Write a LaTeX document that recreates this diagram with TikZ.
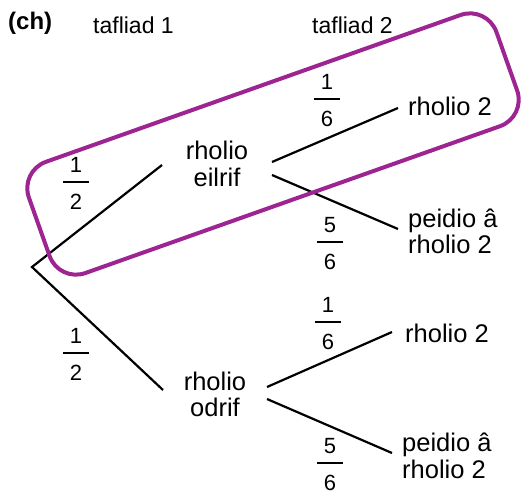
\documentclass[tikz,border=0pt]{standalone}
\usepackage{fontspec}
\setmainfont{Liberation Sans}
\definecolor{boxpurple}{RGB}{158,36,146}
\begin{document}
\begin{tikzpicture}[x=1pt,y=-1pt,
  branch/.style={line width=2.2pt, draw=black},
  lab/.style={font=\fontsize{25.5}{26.5}\selectfont, inner sep=0pt, align=left},
  head/.style={font=\fontsize{23}{24}\selectfont, inner sep=0pt},
  fracbar/.style={fill=black, minimum width=25.5pt, minimum height=2.3pt, inner sep=0pt, outer sep=0pt},
  fracnum/.style={font=\fontsize{22}{24}\selectfont, inner sep=0pt},
  ring/.style={draw=boxpurple, line width=4pt, rounded corners=28pt,
    minimum width=496pt, minimum height=118pt, rotate=19.5, inner sep=0pt}]
\useasboundingbox (0,0) rectangle (526,498);

% headers
\node[head, font={\fontsize{24}{24}\selectfont\bfseries}, anchor=base west] (ch) at (8,29) {(ch)};
\node[head, anchor=base west] (t1) at (93,33) {tafliad 1};
\node[head, anchor=base west] (t2) at (312,33) {tafliad 2};

% outcome labels
\node[lab, align=center] (eil) at (217,164) {rholio\\eilrif};
\node[lab, align=center] (odr) at (215,394.5) {rholio\\odrif};
\node[lab, anchor=base west] (r2u) at (408,115) {rholio 2};
\node[lab, anchor=west] (pu) at (408,231.5) {peidio â\\rholio 2};
\node[lab, anchor=base west] (r2l) at (405,342) {rholio 2};
\node[lab, anchor=west] (pl) at (402,456) {peidio â\\rholio 2};

% branch end points
\coordinate (root) at (32,267);
\coordinate (e1) at (162,165);
\coordinate (o1) at (163,390);
\coordinate (eu) at (272,162);
\coordinate (ed) at (272,175);
\coordinate (ru) at (398,108);
\coordinate (pue) at (398,229);
\coordinate (ou) at (267,387);
\coordinate (od) at (267,399);
\coordinate (rl) at (392,332);
\coordinate (ple) at (392,453);

\draw[branch] (e1) -- (root) -- (o1);
\draw[branch] (eu) -- (ru);
\draw[branch] (ed) -- (pue);
\draw[branch] (ou) -- (rl);
\draw[branch] (od) -- (ple);

% fractions
\node[fracbar, label={[fracnum,label distance=8pt]above:1}, label={[fracnum,label distance=11pt]below:2}] (fh1) at (76,182) {};
\node[fracbar, label={[fracnum,label distance=8pt]above:1}, label={[fracnum,label distance=11pt]below:2}] (fh2) at (76,353) {};
\node[fracbar, label={[fracnum,label distance=8pt]above:1}, label={[fracnum,label distance=11pt]below:6}] (fu1) at (327,99) {};
\node[fracbar, label={[fracnum,label distance=8pt]above:5}, label={[fracnum,label distance=11pt]below:6}] (fu2) at (330,242) {};
\node[fracbar, label={[fracnum,label distance=8pt]above:1}, label={[fracnum,label distance=11pt]below:6}] (fl1) at (328,322) {};
\node[fracbar, label={[fracnum,label distance=8pt]above:5}, label={[fracnum,label distance=11pt]below:6}] (fl2) at (330,463) {};

% highlight ring
\node[ring] (ring) at (273,144) {};
\end{tikzpicture}
\end{document}
